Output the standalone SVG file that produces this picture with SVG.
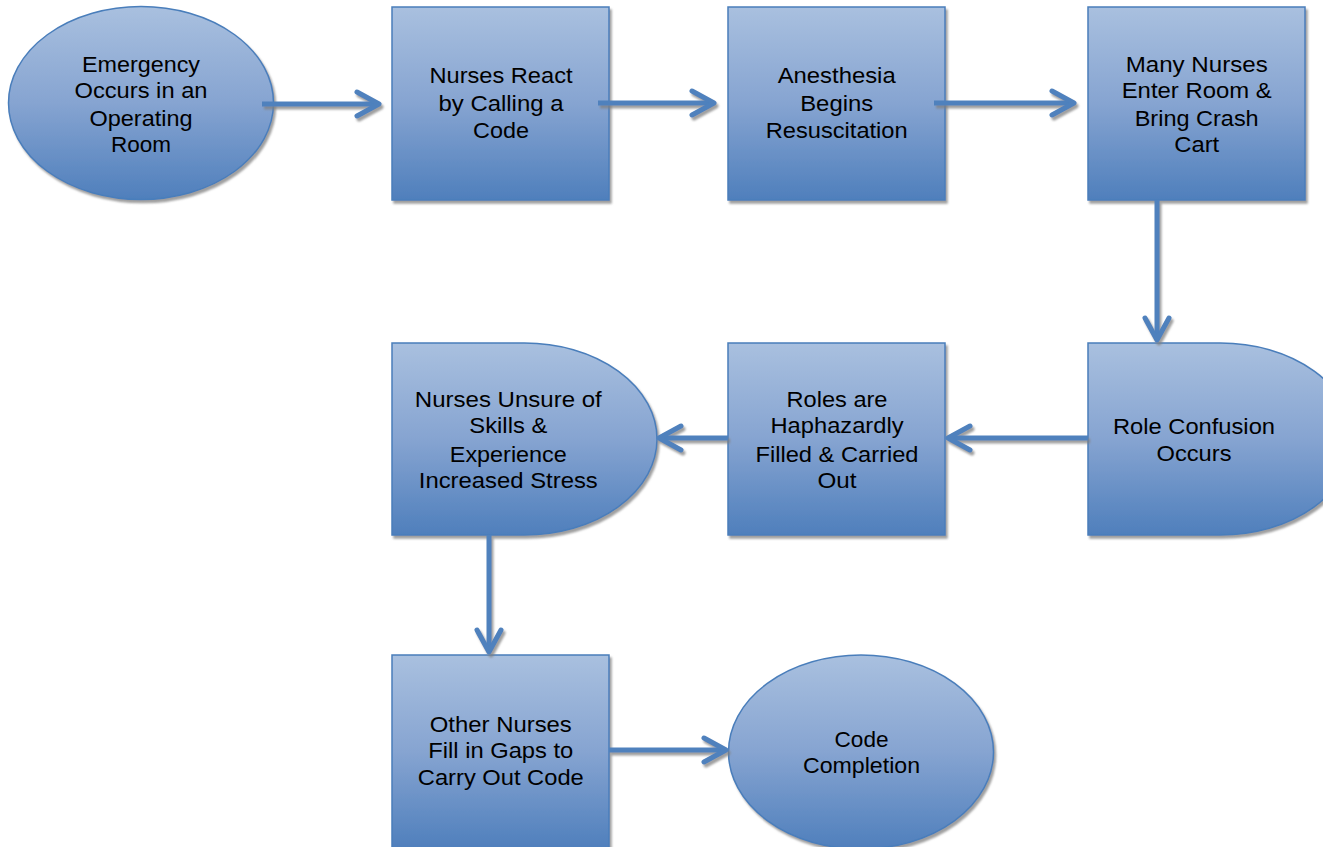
<svg xmlns="http://www.w3.org/2000/svg" width="1323" height="847" viewBox="0 0 1323 847">
  <defs>
    <linearGradient id="fillGrad" x1="0" y1="0" x2="0" y2="1">
      <stop offset="0" stop-color="#a9c0df"/>
      <stop offset="0.5" stop-color="#86a4d1"/>
      <stop offset="1" stop-color="#4f7fbc"/>
    </linearGradient>
    <filter id="shadow" filterUnits="userSpaceOnUse" x="0" y="0" width="1323" height="847">
      <feDropShadow dx="2" dy="3" stdDeviation="1" flood-color="#808080" flood-opacity="0.75"/>
    </filter>
    <marker id="head" markerUnits="userSpaceOnUse" markerWidth="40" markerHeight="40" viewBox="-30 -20 40 40" refX="0" refY="0" orient="auto">
      <path d="M-22,-12 L0,0 L-22,12" fill="none" stroke="#4f81bd" stroke-width="5" stroke-linecap="round" stroke-linejoin="round"/>
    </marker>
  </defs>
  <style>
    .shape { fill: url(#fillGrad); stroke: #4a7ebb; stroke-width: 1.5; filter: url(#shadow); }
    .conn { fill: none; stroke: #4f81bd; stroke-width: 5; marker-end: url(#head); }
    #connectors { filter: url(#shadow); }
    text { font-family: "Liberation Sans", Arial, sans-serif; font-size: 22px; fill: #000; text-anchor: middle; }
  </style>
  <rect width="1323" height="847" fill="#ffffff"/>

  <g id="node-emergency">
    <ellipse class="shape" cx="141" cy="103" rx="132.5" ry="96.5"/>
    <text x="141" y="71.7" textLength="118" lengthAdjust="spacingAndGlyphs">Emergency</text>
    <text x="141" y="98.3" textLength="133" lengthAdjust="spacingAndGlyphs">Occurs in an</text>
    <text x="141" y="126" textLength="103" lengthAdjust="spacingAndGlyphs">Operating</text>
    <text x="141" y="152.3" textLength="60" lengthAdjust="spacingAndGlyphs">Room</text>
  </g>

  <g id="node-nurses-react">
    <rect class="shape" x="392" y="7" width="217" height="193"/>
    <text x="501" y="83.3" textLength="143" lengthAdjust="spacingAndGlyphs">Nurses React</text>
    <text x="501" y="111" textLength="125" lengthAdjust="spacingAndGlyphs">by Calling a</text>
    <text x="501" y="138.3" textLength="56" lengthAdjust="spacingAndGlyphs">Code</text>
  </g>

  <g id="node-anesthesia">
    <rect class="shape" x="728" y="7" width="217" height="193"/>
    <text x="836.7" y="83.3" textLength="118" lengthAdjust="spacingAndGlyphs">Anesthesia</text>
    <text x="836.7" y="110.5" textLength="73" lengthAdjust="spacingAndGlyphs">Begins</text>
    <text x="836.7" y="138.3" textLength="142" lengthAdjust="spacingAndGlyphs">Resuscitation</text>
  </g>

  <g id="node-many-nurses">
    <rect class="shape" x="1088" y="7" width="217" height="193"/>
    <text x="1196.7" y="71.7" textLength="142" lengthAdjust="spacingAndGlyphs">Many Nurses</text>
    <text x="1196.7" y="98.3" textLength="150" lengthAdjust="spacingAndGlyphs">Enter Room &amp;</text>
    <text x="1196.7" y="126" textLength="124" lengthAdjust="spacingAndGlyphs">Bring Crash</text>
    <text x="1196.7" y="152.3" textLength="45" lengthAdjust="spacingAndGlyphs">Cart</text>
  </g>

  <g id="node-role-confusion">
    <path class="shape" d="M1088,343 H1220.5 A132.5,96 0 0 1 1220.5,535 H1088 Z"/>
    <text x="1194" y="434" textLength="162" lengthAdjust="spacingAndGlyphs">Role Confusion</text>
    <text x="1194" y="460.7" textLength="75" lengthAdjust="spacingAndGlyphs">Occurs</text>
  </g>

  <g id="node-roles">
    <rect class="shape" x="728" y="343" width="217" height="192"/>
    <text x="837" y="406.7" textLength="101" lengthAdjust="spacingAndGlyphs">Roles are</text>
    <text x="837" y="433.3" textLength="133" lengthAdjust="spacingAndGlyphs">Haphazardly</text>
    <text x="837" y="461.7" textLength="163" lengthAdjust="spacingAndGlyphs">Filled &amp; Carried</text>
    <text x="837" y="488.3" textLength="39" lengthAdjust="spacingAndGlyphs">Out</text>
  </g>

  <g id="node-nurses-unsure">
    <path class="shape" d="M392,343 H524.5 A132.5,96 0 0 1 524.5,535 H392 Z"/>
    <text x="508.3" y="406.7" textLength="187" lengthAdjust="spacingAndGlyphs">Nurses Unsure of</text>
    <text x="508.3" y="433.3" textLength="78" lengthAdjust="spacingAndGlyphs">Skills &amp;</text>
    <text x="508.3" y="461.7" textLength="117" lengthAdjust="spacingAndGlyphs">Experience</text>
    <text x="508.3" y="488.3" textLength="179" lengthAdjust="spacingAndGlyphs">Increased Stress</text>
  </g>

  <g id="node-other-nurses">
    <rect class="shape" x="392" y="655" width="217" height="194"/>
    <text x="500.8" y="732.3" textLength="142" lengthAdjust="spacingAndGlyphs">Other Nurses</text>
    <text x="500.8" y="758.3" textLength="145" lengthAdjust="spacingAndGlyphs">Fill in Gaps to</text>
    <text x="500.8" y="785" textLength="166" lengthAdjust="spacingAndGlyphs">Carry Out Code</text>
  </g>

  <g id="node-code-completion">
    <ellipse class="shape" cx="861" cy="752" rx="132.5" ry="97"/>
    <text x="861.5" y="746.7" textLength="54" lengthAdjust="spacingAndGlyphs">Code</text>
    <text x="861.5" y="773.3" textLength="117" lengthAdjust="spacingAndGlyphs">Completion</text>
  </g>

  <g id="connectors">
    <path class="conn" d="M262,104 H379"/>
    <path class="conn" d="M598,103 H714"/>
    <path class="conn" d="M934,103 H1074"/>
    <path class="conn" d="M1157,200 V340"/>
    <path class="conn" d="M1088,438 H948"/>
    <path class="conn" d="M728,438 H659"/>
    <path class="conn" d="M489,535 V652"/>
    <path class="conn" d="M609,750 H726"/>
  </g>
</svg>
